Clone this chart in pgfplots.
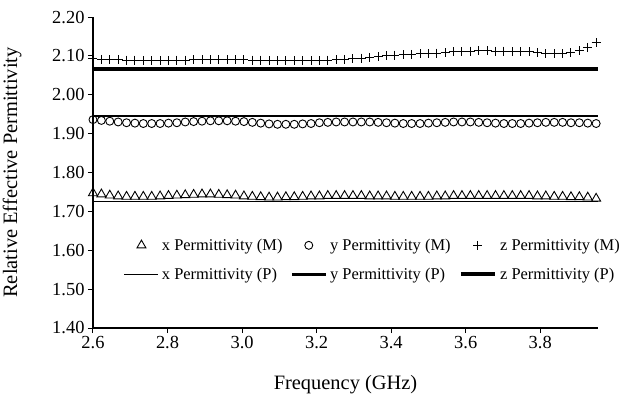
\documentclass[border=0pt]{standalone}
\usepackage{pgfplots}
\pgfplotsset{compat=1.18}
\usepackage{pgfplotstable}
\usepackage{fontspec}
\setmainfont{Liberation Serif}

% measured permittivity (M), one row per frequency point
\pgfplotstableread{
f      xm    ym    zm
2.6000 1.747 1.936 2.092
2.6225 1.744 1.934 2.091
2.6450 1.741 1.932 2.090
2.6675 1.739 1.930 2.090
2.6900 1.738 1.928 2.089
2.7125 1.738 1.927 2.089
2.7350 1.738 1.926 2.088
2.7575 1.738 1.926 2.088
2.7800 1.739 1.926 2.088
2.8025 1.740 1.927 2.088
2.8250 1.741 1.928 2.089
2.8475 1.742 1.930 2.089
2.8700 1.743 1.931 2.090
2.8925 1.744 1.932 2.090
2.9150 1.744 1.933 2.090
2.9375 1.743 1.933 2.090
2.9600 1.742 1.933 2.090
2.9825 1.741 1.932 2.090
3.0050 1.739 1.931 2.090
3.0275 1.738 1.929 2.089
3.0500 1.737 1.927 2.089
3.0725 1.736 1.925 2.088
3.0950 1.736 1.924 2.088
3.1175 1.737 1.924 2.088
3.1400 1.737 1.924 2.087
3.1625 1.738 1.925 2.087
3.1850 1.739 1.926 2.087
3.2075 1.739 1.928 2.088
3.2300 1.740 1.929 2.089
3.2525 1.740 1.930 2.090
3.2750 1.740 1.930 2.091
3.2975 1.740 1.930 2.092
3.3200 1.740 1.930 2.094
3.3425 1.739 1.930 2.096
3.3650 1.739 1.929 2.098
3.3875 1.739 1.928 2.100
3.4100 1.738 1.927 2.102
3.4325 1.738 1.926 2.103
3.4550 1.738 1.926 2.104
3.4775 1.738 1.926 2.105
3.5000 1.738 1.927 2.106
3.5225 1.739 1.928 2.107
3.5450 1.739 1.929 2.108
3.5675 1.740 1.930 2.110
3.5900 1.740 1.930 2.111
3.6125 1.740 1.930 2.112
3.6350 1.740 1.929 2.113
3.6575 1.740 1.928 2.113
3.6800 1.740 1.927 2.112
3.7025 1.740 1.926 2.112
3.7250 1.740 1.926 2.111
3.7475 1.740 1.926 2.111
3.7700 1.740 1.927 2.110
3.7925 1.739 1.928 2.108
3.8150 1.739 1.929 2.106
3.8375 1.738 1.929 2.105
3.8600 1.738 1.929 2.105
3.8825 1.737 1.928 2.108
3.9050 1.737 1.928 2.113
3.9275 1.736 1.927 2.122
3.9500 1.733 1.926 2.134
}\measured

\pgfplotsset{
    mleg/.style={legend image code/.code={\draw[##1] plot coordinates {(17bp,0bp)};}},
    lleg/.style={legend image code/.code={\draw[##1] (0bp,0bp) -- (34bp,0bp);}},
}

\begin{document}
\begin{tikzpicture}
\path[use as bounding box] (-93bp,-77bp) rectangle (537bp,328bp);
\begin{axis}[
    at={(0,0)}, anchor=south west,
    scale only axis,
    width=505bp, height=311bp,
    xmin=2.6, xmax=3.955,
    ymin=1.4, ymax=2.2,
    axis x line*=bottom, axis y line*=left,
    axis line style={line width=1.1bp, -},
    xtick={2.6,2.8,3.0,3.2,3.4,3.6,3.8},
    ytick={1.4,1.5,1.6,1.7,1.8,1.9,2.0,2.1,2.2},
    tick align=outside,
    major tick length=5bp,
    tick style={line width=1bp, black},
    /pgf/number format/assume math mode=true,
    xticklabel style={/pgf/number format/.cd, fixed, fixed zerofill, precision=1},
    yticklabel style={/pgf/number format/.cd, fixed, fixed zerofill, precision=2},
    tick label style={font=\fontsize{18.5}{20}\selectfont},
    xlabel={Frequency (GHz)},
    ylabel={Relative Effective Permittivity},
    label style={font=\fontsize{20.5}{22}\selectfont},
    xlabel style={at={(axis description cs:0.5,-0.183)}, anchor=center},
    ylabel style={at={(axis description cs:-0.16,0.5)}, anchor=center},
    legend columns=3,
    legend cell align=left,
    legend style={at={(0.055,0.30)}, anchor=north west, draw=none, fill=none,
        font=\fontsize{16.5}{18}\selectfont,
        /tikz/every odd column/.append style={column sep=1bp},
        /tikz/every even column/.append style={column sep=6bp},
        /tikz/column 2/.append style={column sep=14bp},
        /tikz/column 4/.append style={column sep=-2bp},
        row sep=12bp},
    clip=false,
]
\addplot[only marks, mark=triangle, mark size=5.2bp, mark options={line width=0.9bp, black}, mleg]
    table[x=f, y=xm] {\measured};
\addlegendentry{x Permittivity (M)}
\addplot[only marks, mark=o, mark size=4bp, mark options={line width=0.9bp, black}, mleg]
    table[x=f, y=ym] {\measured};
\addlegendentry{y Permittivity (M)}
\addplot[only marks, mark=+, mark size=4.5bp, mark options={line width=1bp, black}, mleg]
    table[x=f, y=zm] {\measured};
\addlegendentry{z Permittivity (M)}
\addplot[black, line width=1bp, lleg] coordinates {(2.6,1.725) (3.955,1.725)};
\addlegendentry{x Permittivity (P)}
\addplot[black, line width=2.6bp, lleg] coordinates {(2.6,1.945) (3.955,1.945)};
\addlegendentry{y Permittivity (P)}
\addplot[black, line width=4.5bp, lleg] coordinates {(2.6,2.066) (3.955,2.066)};
\addlegendentry{z Permittivity (P)}
\end{axis}
\end{tikzpicture}
\end{document}
